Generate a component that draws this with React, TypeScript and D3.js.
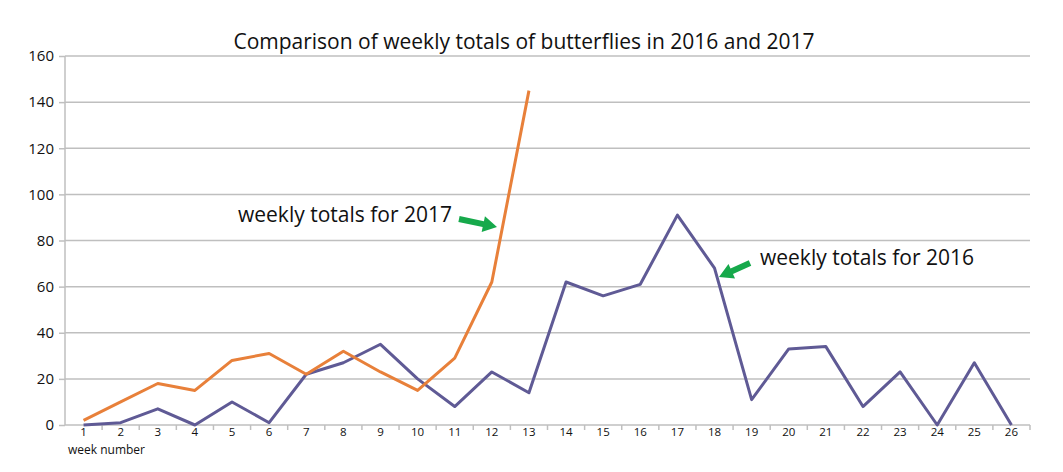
import * as d3 from "d3";
import { useEffect, useRef } from "react";

const weeks = d3.range(1, 27).map(String);
const totals2016 = [0, 1, 7, 0, 10, 1, 22, 27, 35, 20, 8, 23, 14, 62, 56, 61, 91, 68, 11, 33, 34, 8, 23, 0, 27, 0];
const totals2017 = [2, 10, 18, 15, 28, 31, 22, 32, 23, 15, 29, 62, 145];
const yTicks = [0, 20, 40, 60, 80, 100, 120, 140, 160];

const App = () => {
    const ref = useRef<SVGSVGElement>(null);

    useEffect(() => {
        if (!ref.current) return;
        const svg = d3.select(ref.current);
        svg.selectAll("*").remove();

        const left = 65, right = 1030, top = 56, bottom = 425;
        const font = "'Open Sans', 'Noto Sans', sans-serif";

        const x = d3.scaleBand().domain(weeks).range([left, right]);
        const y = d3.scaleLinear().domain([0, 160]).range([bottom, top]);
        const cx = (i: number) => x(weeks[i])! + x.bandwidth() / 2;

        svg.append("text")
            .attr("x", 524)
            .attr("y", 49)
            .attr("text-anchor", "middle")
            .style("font-family", font)
            .style("font-size", "21px")
            .style("fill", "#111")
            .text("Comparison of weekly totals of butterflies in 2016 and 2017");

        // gridlines
        svg.append("g")
            .selectAll("line")
            .data(yTicks.filter((d) => d > 0))
            .enter()
            .append("line")
            .attr("x1", left)
            .attr("x2", right)
            .attr("y1", (d) => y(d))
            .attr("y2", (d) => y(d))
            .style("stroke", "#bfbfbf")
            .style("stroke-width", 1.5);

        const yAxis = svg.append("g")
            .attr("transform", `translate(${left},0)`)
            .call(d3.axisLeft(y).tickValues(yTicks).tickSize(6).tickPadding(5));
        yAxis.selectAll("path, line").style("stroke", "#bfbfbf").style("stroke-width", 1.5);
        yAxis.select(".domain").attr("d", `M0,${bottom}V${top}`);
        yAxis.selectAll("text")
            .style("font-family", font)
            .style("font-size", "15px")
            .style("fill", "#111");

        const xAxis = svg.append("g")
            .attr("transform", `translate(0,${bottom})`)
            .call(d3.axisBottom(x).tickSize(0).tickPadding(3));
        xAxis.select(".domain").style("stroke", "#bfbfbf").style("stroke-width", 1.5).attr("d", `M${left},0H${right}`);
        xAxis.selectAll("text")
            .style("font-family", font)
            .style("font-size", "11.5px")
            .style("fill", "#111");
        xAxis.selectAll(".band-tick")
            .data(weeks.slice(1).concat(["end"]))
            .enter()
            .append("line")
            .attr("x1", (d) => (d === "end" ? right : x(d)!))
            .attr("x2", (d) => (d === "end" ? right : x(d)!))
            .attr("y1", 0)
            .attr("y2", 5)
            .style("stroke", "#bfbfbf")
            .style("stroke-width", 1.5);

        svg.append("text")
            .attr("x", 68)
            .attr("y", 454)
            .style("font-family", font)
            .style("font-size", "12px")
            .style("fill", "#111")
            .text("week  number");

        const line = d3.line<number>()
            .x((_d, i) => cx(i))
            .y((d) => y(d));

        svg.append("path")
            .datum(totals2016)
            .attr("d", line)
            .style("fill", "none")
            .style("stroke", "#5f5a95")
            .style("stroke-width", 3)
            .style("stroke-linejoin", "round");

        svg.append("path")
            .datum(totals2017)
            .attr("d", line)
            .style("fill", "none")
            .style("stroke", "#e8803a")
            .style("stroke-width", 3)
            .style("stroke-linejoin", "round");

        // annotations
        const notes = [
            { label: "weekly totals for 2017", tx: 238, ty: 222, x1: 459, y1: 219, x2: 497, y2: 227 },
            { label: "weekly totals for 2016", tx: 760, ty: 265, x1: 750, y1: 263, x2: 719, y2: 277 },
        ];
        notes.forEach((n) => {
            svg.append("text")
                .attr("x", n.tx)
                .attr("y", n.ty)
                .style("font-family", font)
                .style("font-size", "21px")
                .style("fill", "#111")
                .text(n.label);
            const ang = Math.atan2(n.y2 - n.y1, n.x2 - n.x1);
            const len = Math.hypot(n.x2 - n.x1, n.y2 - n.y1);
            const head = 14, shaft = 3, hw = 8;
            const g = svg.append("g")
                .attr("transform", `translate(${n.x1},${n.y1}) rotate(${(ang * 180) / Math.PI})`);
            g.append("path")
                .attr("d", `M0,${-shaft}L${len - head},${-shaft}L${len - head},${-hw}L${len},0L${len - head},${hw}L${len - head},${shaft}L0,${shaft}Z`)
                .style("fill", "#16a94b");
        });
    }, []);

    return (
        <svg
            ref={ref}
            width={1063}
            height={472}
            style={{ position: "absolute", left: 0, top: 0, background: "white" }}
        />
    );
};

export default App;
